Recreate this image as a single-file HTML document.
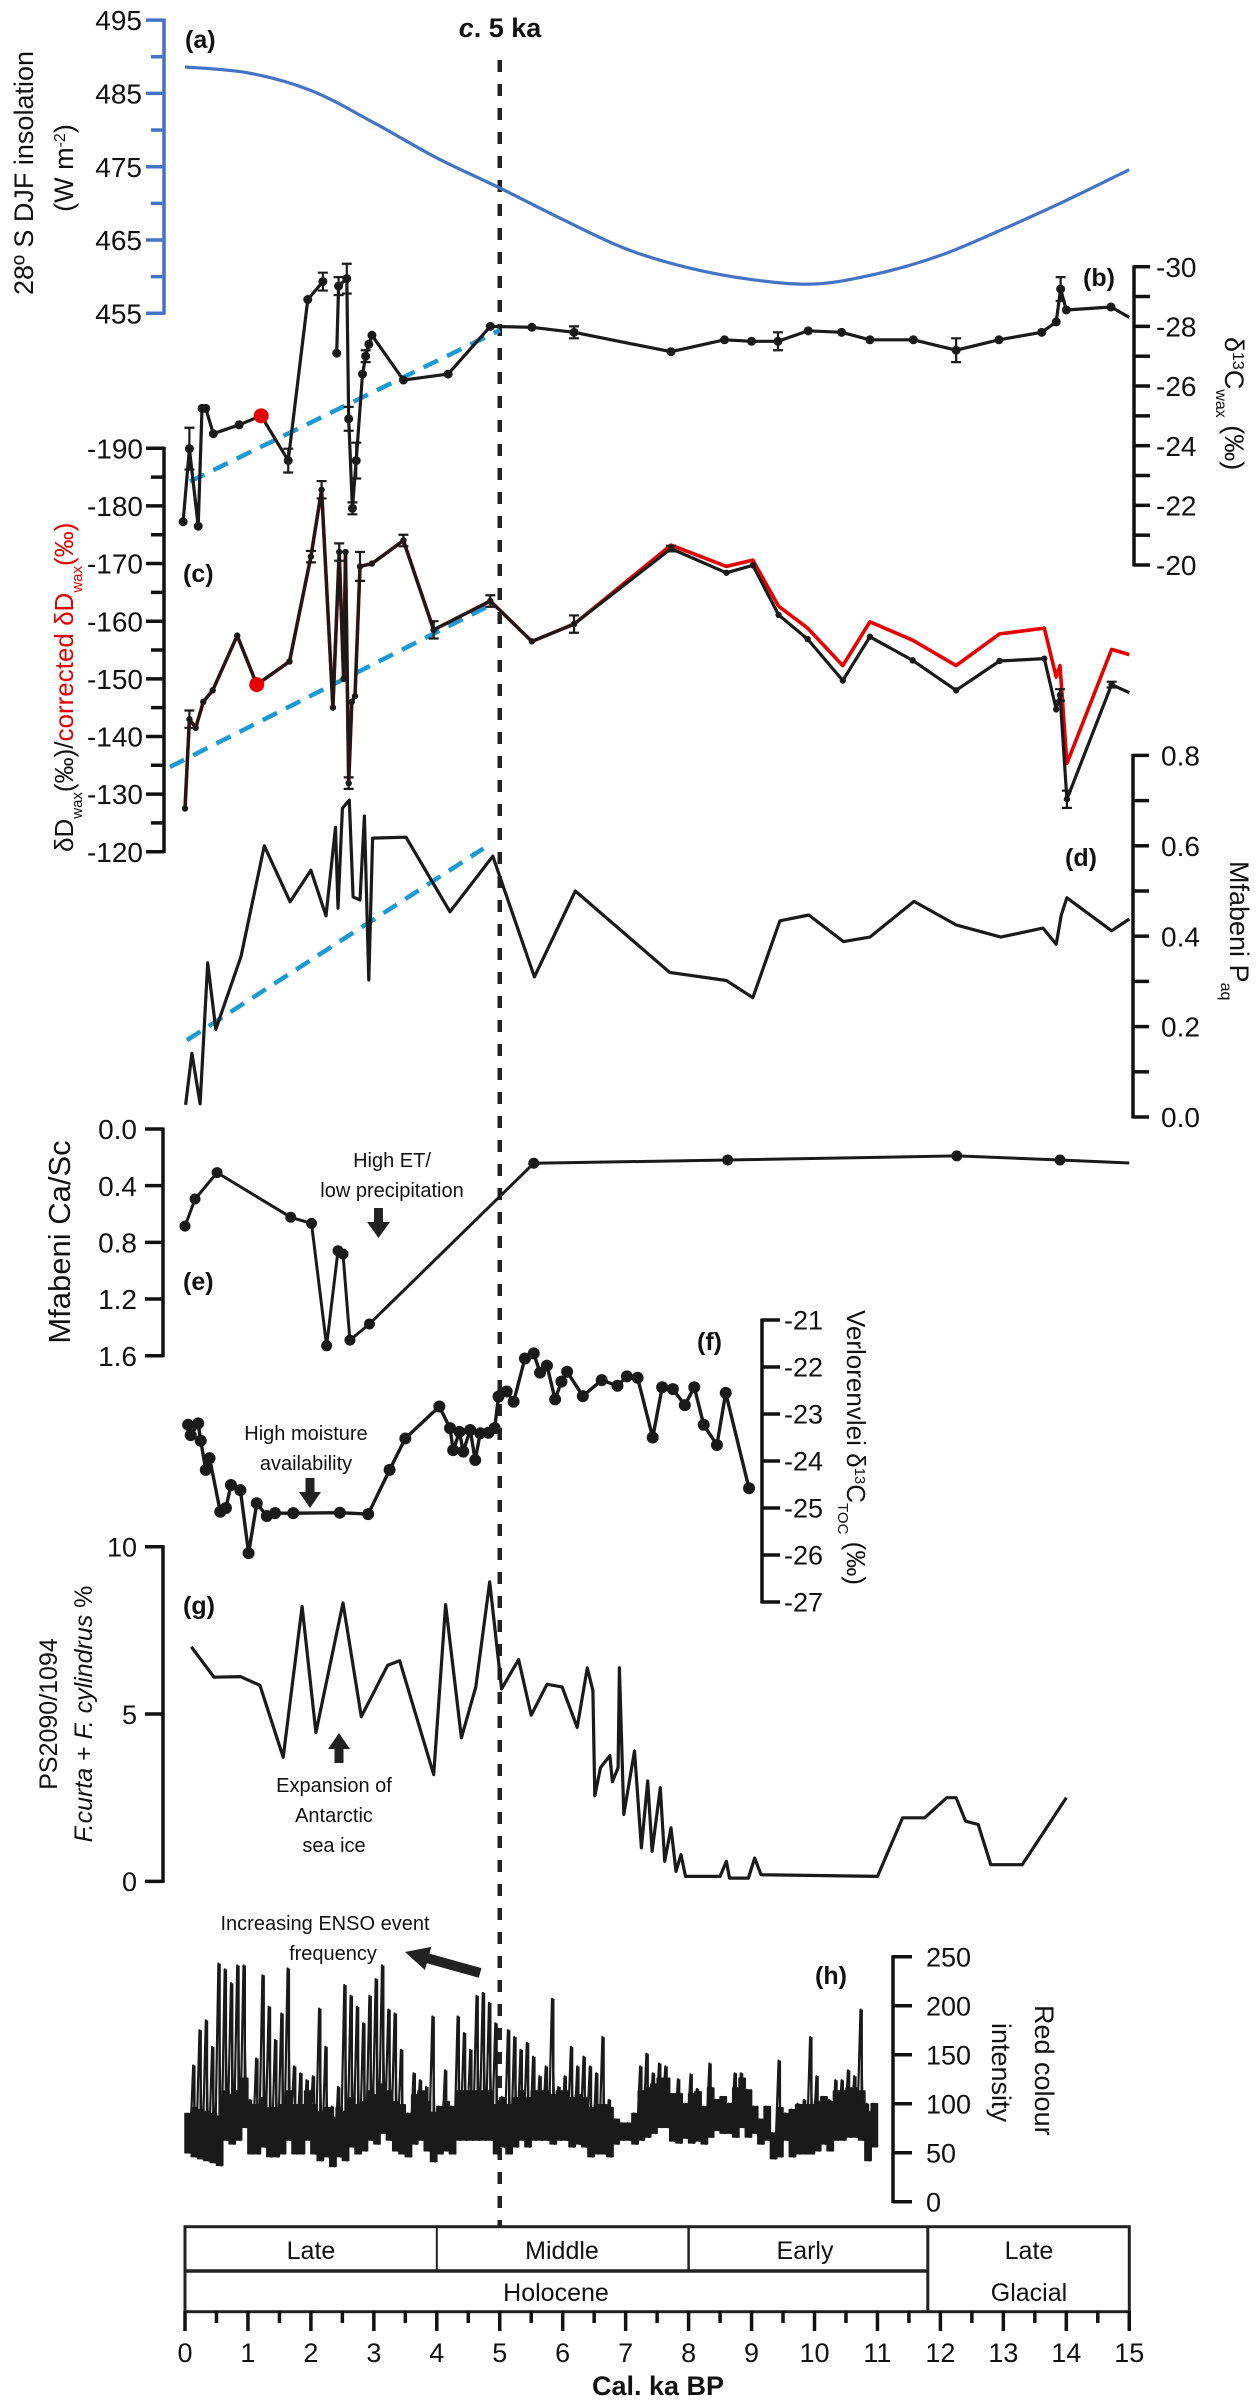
<!DOCTYPE html>
<html><head><meta charset="utf-8"><title>Palaeoclimate multi-proxy figure</title>
<style>
html,body{margin:0;padding:0;background:#fff;}
svg{display:block;}
text{font-family:"Liberation Sans",sans-serif;fill:#111;}
</style></head>
<body>
<svg id="fig" xmlns="http://www.w3.org/2000/svg" width="1256" height="2400" viewBox="0 0 1256 2400">
  <text x="185" y="48" font-size="25" font-weight="bold">(a)</text>
  <text x="500" y="37" font-size="27" font-weight="bold" text-anchor="middle"><tspan font-style="italic">c</tspan>. 5 ka</text>
  <text x="1083" y="286" font-size="25" font-weight="bold">(b)</text>
  <text x="183" y="582" font-size="25" font-weight="bold">(c)</text>
  <text x="1065" y="866" font-size="25" font-weight="bold">(d)</text>
  <text x="183" y="1290" font-size="25" font-weight="bold">(e)</text>
  <text x="697" y="1350" font-size="25" font-weight="bold">(f)</text>
  <text x="183" y="1614" font-size="25" font-weight="bold">(g)</text>
  <text x="815" y="1984" font-size="25" font-weight="bold">(h)</text>

  <text transform="translate(33,173) rotate(-90)" font-size="27" text-anchor="middle">28º S DJF insolation</text>
  <text transform="translate(73,168) rotate(-90)" font-size="27" text-anchor="middle">(W m<tspan font-size="16" baseline-shift="super">-2</tspan>)</text>
  <text transform="translate(1225,337) rotate(90)" font-size="27">δ<tspan font-size="16" baseline-shift="super">13</tspan>C<tspan font-size="16" baseline-shift="sub">wax</tspan> (‰)</text>
  <text transform="translate(73,852) rotate(-90)" font-size="26">δD<tspan font-size="15" baseline-shift="sub">wax</tspan>(‰)/<tspan fill="#e00000" style="fill:#e00000">corrected δD<tspan font-size="15" baseline-shift="sub" style="fill:#e00000">wax</tspan>(‰)</tspan></text>
  <text transform="translate(1230,861) rotate(90)" font-size="27">Mfabeni P<tspan font-size="16" baseline-shift="sub">aq</tspan></text>
  <text transform="translate(70,1242) rotate(-90)" font-size="31" text-anchor="middle">Mfabeni Ca/Sc</text>
  <text transform="translate(847,1310) rotate(90)" font-size="26">Verlorenvlei δ<tspan font-size="15" baseline-shift="super">13</tspan>C<tspan font-size="15" baseline-shift="sub">TOC</tspan> (‰)</text>
  <text transform="translate(57,1714) rotate(-90)" font-size="25" text-anchor="middle">PS2090/1094</text>
  <text transform="translate(92,1714) rotate(-90)" font-size="25" text-anchor="middle"><tspan font-style="italic">F.curta</tspan> + <tspan font-style="italic">F. cylindrus</tspan> %</text>
  <text transform="translate(1035,2005) rotate(90)" font-size="27">Red colour</text>
  <text transform="translate(992,2023) rotate(90)" font-size="27">intensity</text>

  <text x="392" y="1167" font-size="20" text-anchor="middle">High ET/</text>
  <text x="392" y="1197" font-size="20" text-anchor="middle">low precipitation</text>
  <path d="M374,1208 H383 V1222 H390 L378.5,1238 L367,1222 H374 Z" fill="#222"/>
  <text x="306" y="1440" font-size="20" text-anchor="middle">High moisture</text>
  <text x="306" y="1470" font-size="20" text-anchor="middle">availability</text>
  <path d="M305.5,1478 H314.5 V1492 H321 L310,1508 L299,1492 H305.5 Z" fill="#222"/>
  <path d="M334.5,1763 H343.5 V1749 H350 L339,1733 L328,1749 H334.5 Z" fill="#222"/>
  <text x="334" y="1792" font-size="20" text-anchor="middle">Expansion of</text>
  <text x="334" y="1822" font-size="20" text-anchor="middle">Antarctic</text>
  <text x="334" y="1852" font-size="20" text-anchor="middle">sea ice</text>
  <text x="325" y="1930" font-size="20" text-anchor="middle">Increasing ENSO event</text>
  <text x="333" y="1960" font-size="20" text-anchor="middle">frequency</text>
  <path transform="translate(405,1952) rotate(15.6)" d="M0,0 L24,-12 L24,-5 L78,-5 L78,5 L24,5 L24,12 Z" fill="#222"/>

  <g fill="none" stroke="#222">
    <rect x="185" y="2226.7" width="944.3" height="85" stroke-width="3"/>
    <line x1="185" y1="2271" x2="927.8" y2="2271" stroke-width="3.5"/>
    <line x1="436.8" y1="2226.7" x2="436.8" y2="2271" stroke-width="2"/>
    <line x1="688.6" y1="2226.7" x2="688.6" y2="2271" stroke-width="2.5"/>
    <line x1="927.8" y1="2226.7" x2="927.8" y2="2311.7" stroke-width="3"/>
  </g>
  <text x="311" y="2259" font-size="25" text-anchor="middle">Late</text>
  <text x="562" y="2259" font-size="25" text-anchor="middle">Middle</text>
  <text x="805" y="2259" font-size="25" text-anchor="middle">Early</text>
  <text x="556" y="2301" font-size="25" text-anchor="middle">Holocene</text>
  <text x="1029" y="2259" font-size="25" text-anchor="middle">Late</text>
  <text x="1029" y="2301" font-size="25" text-anchor="middle">Glacial</text>
  <text x="658" y="2395" font-size="27" font-weight="bold" text-anchor="middle">Cal. ka BP</text>
</svg>

<script>
const insolKa = [0,1,2,3,4,5,6,7,8,9,10,11,12,13,14,15];
const insolVal = [488.6,487.8,485.4,481,476.2,472.1,467.8,463.8,461.2,459.6,459.0,460.4,462.9,466.5,470.4,474.6];

const bKa = [-0.03,0.07,0.21,0.27,0.33,0.45,0.86,1.21,1.64,1.95,2.19,2.41,2.44,2.57,2.6,2.66,2.72,2.82,2.87,2.92,2.97,3.47,4.18,4.85,5.51,6.18,7.72,8.57,9.0,9.42,9.9,10.43,10.88,11.57,12.25,12.93,13.61,13.84,13.91,14.0,14.71,15.0];
const bVal = [-21.45,-23.9,-21.3,-25.25,-25.25,-24.4,-24.7,-25.0,-23.5,-28.9,-29.5,-27.1,-29.35,-29.6,-24.9,-21.9,-23.5,-26.4,-27.0,-27.4,-27.7,-26.2,-26.4,-28.0,-27.97,-27.8,-27.15,-27.55,-27.5,-27.5,-27.85,-27.8,-27.55,-27.55,-27.2,-27.55,-27.8,-28.15,-29.25,-28.55,-28.65,-28.3];
const bErr = [0,0.7,0,0,0,0,0,0,0.4,0,0.3,0,0.3,0.5,0.4,0.2,0.6,0,0.2,0,0,0,0,0,0,0.2,0,0,0,0.3,0,0,0,0,0.4,0,0,0,0.4,0,0,0];
const bRedIdx = [7];
const bBreakAfter = [10];
const bTrendKa = [0.08,5.0];
const bTrendVal = [-22.8,-27.87];

const cKa = [0,0.07,0.17,0.29,0.44,0.83,1.14,1.66,2.0,2.17,2.35,2.45,2.52,2.55,2.6,2.65,2.7,2.78,2.97,3.47,3.95,4.85,5.51,6.18,7.72,8.6,9.02,9.43,9.89,10.45,10.88,11.56,12.25,12.94,13.65,13.84,13.9,14.01,14.72,15.0];
const cVal = [-127.5,-143,-141.5,-146,-148,-157.5,-149,-153,-171.2,-182.8,-145,-172,-150,-172,-131.9,-146,-147,-169.5,-170,-174,-158.5,-163.5,-156.5,-159.5,-172.6,-168.4,-169.7,-161.1,-156.9,-149.7,-157.3,-153.2,-148,-153.1,-153.5,-144.7,-147.2,-129.1,-149,-147.6];
const cRedVal = [-127.5,-143,-141.5,-146,-148,-157.5,-149,-153,-171.2,-182.8,-145,-172,-150,-172,-131.9,-146,-147,-169.5,-170,-174,-158.5,-163.5,-156.5,-159.5,-173.2,-169.5,-170.6,-162.6,-158.8,-152.3,-159.9,-156.7,-152.3,-157.8,-158.8,-150.3,-152.3,-135.3,-155.1,-154.2];
const cErr = [0,1.5,0,0,0,0,0,0,1.0,1.5,0,1.5,0,0,1.0,0,0,2.5,0,1.0,1.5,1.0,0,1.5,0.5,0,0,0,0,0,0,0,0,0,0,0,1.0,1.5,0.5,0];
const cRedIdx = [6];
const cTrendKa = [-0.24,4.85];
const cTrendVal = [-134.7,-162.8];

const dKa = [0.01,0.11,0.24,0.36,0.49,0.89,1.26,1.67,2.0,2.24,2.39,2.43,2.5,2.61,2.67,2.78,2.85,2.92,2.98,3.51,4.21,4.89,5.55,6.2,7.7,8.6,9.02,9.45,9.91,10.46,10.88,11.58,12.25,12.96,13.63,13.84,13.92,14.01,14.72,15.0];
const dVal = [0.027,0.141,0.029,0.341,0.194,0.355,0.60,0.476,0.546,0.445,0.641,0.462,0.683,0.701,0.487,0.48,0.666,0.303,0.617,0.619,0.454,0.577,0.31,0.50,0.32,0.302,0.264,0.434,0.447,0.388,0.398,0.477,0.425,0.398,0.418,0.382,0.447,0.485,0.412,0.438];
const dTrendKa = [0.03,4.74];
const dTrendVal = [0.17,0.594];

const eKa = [0,0.16,0.51,1.68,2.01,2.25,2.43,2.51,2.62,2.93,5.54,8.62,12.26,13.9,15.0];
const eVal = [0.685,0.494,0.308,0.623,0.666,1.53,0.859,0.882,1.49,1.376,0.242,0.219,0.19,0.219,0.24];

const fKa = [0.05,0.09,0.21,0.25,0.33,0.39,0.56,0.65,0.73,0.88,1.01,1.14,1.3,1.43,1.72,2.46,2.91,3.25,3.5,4.04,4.21,4.26,4.36,4.42,4.53,4.61,4.69,4.82,4.92,4.98,5.11,5.22,5.4,5.54,5.64,5.75,5.88,5.98,6.07,6.32,6.62,6.87,7.02,7.19,7.43,7.58,7.75,7.94,8.09,8.24,8.45,8.59,8.96];
const fVal = [-23.23,-23.45,-23.2,-23.57,-24.19,-23.94,-25.08,-25.0,-24.51,-24.62,-25.96,-24.9,-25.17,-25.11,-25.11,-25.1,-25.13,-24.19,-23.52,-22.84,-23.3,-23.77,-23.38,-23.8,-23.34,-23.98,-23.41,-23.4,-23.3,-22.63,-22.52,-22.74,-21.82,-21.71,-22.12,-21.97,-22.69,-22.31,-22.1,-22.62,-22.28,-22.4,-22.2,-22.23,-23.5,-22.43,-22.47,-22.81,-22.43,-23.23,-23.66,-22.55,-24.58];

const gKa = [0.1,0.46,0.88,1.19,1.56,1.86,2.08,2.51,2.8,3.22,3.41,3.95,4.14,4.39,4.62,4.84,5.03,5.3,5.5,5.75,5.99,6.23,6.39,6.48,6.51,6.6,6.75,6.79,6.88,6.9,6.97,7.14,7.25,7.35,7.42,7.55,7.62,7.72,7.8,7.88,7.95,8.5,8.6,8.65,8.95,9.05,9.15,11.0,11.4,11.75,12.1,12.25,12.4,12.6,12.8,13.3,14.0];
const gVal = [7.01,6.1,6.12,5.86,3.71,8.22,4.45,8.32,4.92,6.46,6.59,3.19,8.27,4.29,5.81,8.95,5.75,6.63,4.97,5.89,5.81,4.6,6.38,5.7,2.56,3.4,3.76,2.98,3.4,6.38,2.0,3.9,1.0,3.0,0.9,2.8,0.6,1.6,0.3,0.8,0.15,0.15,0.6,0.1,0.1,0.7,0.2,0.15,1.9,1.9,2.5,2.5,1.8,1.7,0.5,0.5,2.5];

const hBinStart = 0;
const hBinWidth = 0.1;
const hMax = [90,139,175,185,158,243,237,223,241,241,
104,146,231,199,165,192,238,138,131,124,
128,197,158,97,117,221,210,199,182,210,
227,241,196,192,155,90,131,124,117,189,
97,134,97,189,172,155,210,213,203,182,
107,175,168,155,162,148,128,138,207,117,
128,158,138,148,138,131,168,104,84,80,
80,90,138,151,131,141,138,110,125,100,
130,115,97,141,104,107,100,131,131,114,
97,84,97,70,144,90,94,100,104,168,
128,107,104,124,124,134,128,196,100,100];
const hMin = [50,46,44,42,40,37,63,59,63,76,
49,49,56,46,46,49,63,49,49,63,
49,42,46,36,46,42,56,49,52,63,
59,70,63,52,49,46,59,63,52,41,
49,52,49,63,63,63,63,63,63,49,
56,49,56,63,56,63,63,63,59,63,
63,56,59,56,46,49,49,46,59,63,
63,59,63,66,70,76,76,62,60,65,
60,62,59,66,73,70,70,66,76,66,
70,59,63,44,46,63,46,49,49,49,
52,59,52,63,63,66,66,63,42,56];

const xMajor = [0,1,2,3,4,5,6,7,8,9,10,11,12,13,14,15];
const xMinor = [0.5,1.5,2.5,3.5,4.5,5.5,6.5,7.5,8.5,9.5,10.5,11.5,12.5,13.5,14.5];
const aTicks = [495,485,475,465,455];
const aMinor = [490,480,470,460];
const bTicks = [-30,-28,-26,-24,-22,-20];
const bMinor = [-29,-27,-25,-23,-21];
const cTicks = [-190,-180,-170,-160,-150,-140,-130,-120];
const cMinor = [-185,-175,-165,-155,-145,-135,-125];
const dTicks = [0.8,0.6,0.4,0.2,0.0];
const dMinor = [0.7,0.5,0.3,0.1];
const eTicks = [0.0,0.4,0.8,1.2,1.6];
const fTicks = [-21,-22,-23,-24,-25,-26,-27];
const gTicks = [10,5,0];
const hTicks = [250,200,150,100,50,0];
const cutoffKa = 5;

const X = k => 185 + 62.95*k;
const yA = v => 313.3 - (v-455)*7.33;
const yB = v => 266.7 + (v+30)*29.83;
const yC = v => 448.3 + (v+190)*5.763;
const yD = v => 1117 - v*452;
const yE = v => 1129 + v*141.7;
const yF = v => 1320 - (v+21)*47;
const yG = v => 1881.4 - v*33.47;
const yH = v => 2201.7 - v*0.98;

const NS = "http://www.w3.org/2000/svg";
const svg = document.getElementById('fig');
function mk(tag, attrs, parent){
  const e = document.createElementNS(NS, tag);
  for (const k in attrs) e.setAttribute(k, attrs[k]);
  (parent||svg).appendChild(e);
  return e;
}
function fmt(v, dec){ return dec ? v.toFixed(dec) : String(v); }

function axis(name, x, ys, majors, minors, side, color, dec, majLen, minLen, fs, gap){
  const g = mk('g', {});
  
  
  const vals = majors.concat(minors||[]);
  const yy = vals.map(ys);
  const y1 = Math.min(...yy), y2 = Math.max(...yy);
  const line = mk('line', {x1:x, y1:y1-1.5, x2:x, y2:y2+1.5, stroke:color, 'stroke-width':3.5}, g);
  
  
  const dir = side === 'left' ? -1 : 1;
  majors.forEach(v => {
    const t = mk('line', {x1:x, y1:ys(v), x2:x+dir*majLen, y2:ys(v), stroke:color, 'stroke-width':3.5}, g);
    
    
    const lb = mk('text', {x:x+dir*(majLen+gap), y:ys(v), dy:'0.36em', 'font-size':fs, 'text-anchor': side==='left'?'end':'start'}, g);
    
    
    lb.textContent = fmt(v, dec);
  });
  (minors||[]).forEach(v => {
    const t = mk('line', {x1:x, y1:ys(v), x2:x+dir*minLen, y2:ys(v), stroke:color, 'stroke-width':3.5}, g);
    
    
  });
}

function pathD(ka, val, ys, breaks){
  let d = '';
  ka.forEach((k,i) => {
    const cmd = (i===0 || (breaks && breaks.includes(i-1))) ? 'M' : 'L';
    d += cmd + X(k).toFixed(1) + ',' + ys(val[i]).toFixed(1) + ' ';
  });
  return d;
}
function smoothD(ka, val, ys){
  const p = ka.map((k,i)=>[X(k), ys(val[i])]);
  let d = 'M' + p[0][0] + ',' + p[0][1];
  for (let i=0;i<p.length-1;i++){
    const p0 = p[i-1]||p[i], p1=p[i], p2=p[i+1], p3=p[i+2]||p2;
    const c1 = [p1[0]+(p2[0]-p0[0])/6, p1[1]+(p2[1]-p0[1])/6];
    const c2 = [p2[0]-(p3[0]-p1[0])/6, p2[1]-(p3[1]-p1[1])/6];
    d += ' C' + c1.join(',') + ' ' + c2.join(',') + ' ' + p2.join(',');
  }
  return d;
}
function series(name, d, color, width, dash){
  const p = mk('path', {d:d, fill:'none', stroke:color, 'stroke-width':width, 'stroke-linejoin':'round'});
  if (dash) p.setAttribute('stroke-dasharray', dash);
  
  
  return p;
}
function dots(name, ka, val, ys, r, skipLast, color){
  const g = mk('g', {fill: color||'#1a1a1a'});
  
  
  ka.forEach((k,i) => {
    if (skipLast && i === ka.length-1) return;
    const c = mk('circle', {cx:X(k), cy:ys(val[i]), r:r}, g);
    
    
  });
}
function errbars(name, ka, val, err, ys){
  const g = mk('g', {stroke:'#1a1a1a', 'stroke-width':2.2});
  
  
  ka.forEach((k,i) => {
    if (!err[i]) return;
    const x = X(k), ya = ys(val[i]-err[i]), yb = ys(val[i]+err[i]);
    const e = mk('path', {d:`M${x},${ya} V${yb} M${x-5},${ya} H${x+5} M${x-5},${yb} H${x+5}`, fill:'none'}, g);
    
    
  });
}

const cut = mk('line', {x1:X(cutoffKa), y1:60, x2:X(cutoffKa), y2:2226, stroke:'#222', 'stroke-width':4.5, 'stroke-dasharray':'12 12'});



axis('insolation-y-axis', 164, yA, aTicks, aMinor, 'left', '#4472c4', 0, 18, 13, 28, 4);
axis('d13c-wax-y-axis', 1134, yB, bTicks, bMinor, 'right', '#111', 0, 16, 16, 28, 6);
axis('dD-wax-y-axis', 164, yC, cTicks, cMinor, 'left', '#111', 0, 18, 13, 28, 3);
axis('paq-y-axis', 1133, yD, dTicks, dMinor, 'right', '#111', 1, 16, 16, 28, 12);
axis('ca-sc-y-axis', 163, yE, eTicks, [], 'left', '#111', 1, 18, 10, 28, 8);
axis('d13c-toc-y-axis', 762, yF, fTicks, [], 'right', '#111', 0, 18, 10, 27, 4);
axis('diatom-y-axis', 163, yG, gTicks, [], 'left', '#111', 0, 18, 10, 27, 8);
axis('red-colour-y-axis', 893, yH, hTicks, [], 'right', '#111', 0, 19, 10, 27, 14);

(function(){
  const g = mk('g', {stroke:'#111', 'stroke-width':3.5});
  
  
  xMajor.forEach(k => {
    const t = mk('line', {x1:X(k), y1:2311, x2:X(k), y2:2331}, g);
    
    
    const lb = mk('text', {x:X(k), y:2362, 'font-size':27, 'text-anchor':'middle', stroke:'none'});
    
    
    lb.textContent = String(k);
  });
  xMinor.forEach(k => {
    const t = mk('line', {x1:X(k), y1:2311, x2:X(k), y2:2323}, g);
    
    
  });
})();

series('insolation-line', smoothD(insolKa, insolVal, yA), '#4472c4', 3.2);

series('d13c-wax-trend', pathD(bTrendKa, bTrendVal, yB), '#1b9ad6', 4.5, '16 10');
errbars('d13c-wax-errors', bKa, bVal, bErr, yB);
series('d13c-wax-line', pathD(bKa, bVal, yB, bBreakAfter), '#1a1a1a', 3.2);
dots('d13c-wax-dots', bKa, bVal, yB, 4.5, true);
bRedIdx.forEach(i => {
  const c = mk('circle', {cx:X(bKa[i]), cy:yB(bVal[i]), r:7.5, fill:'#e60000'});
  
  
});

series('dD-wax-trend', pathD(cTrendKa, cTrendVal, yC), '#1b9ad6', 4.5, '16 10');
series('dD-wax-corrected-line', pathD(cKa, cRedVal, yC), '#e60000', 3.6);
errbars('dD-wax-errors', cKa, cVal, cErr, yC);
series('dD-wax-line', pathD(cKa, cVal, yC), '#1a1a1a', 3.2);
dots('dD-wax-dots', cKa, cVal, yC, 3.2, true);
cRedIdx.forEach(i => {
  const c = mk('circle', {cx:X(cKa[i]), cy:yC(cVal[i]), r:7.5, fill:'#e60000'});
  
  
});

series('paq-trend', pathD(dTrendKa, dTrendVal, yD), '#1b9ad6', 4.5, '16 10');
series('paq-line', pathD(dKa, dVal, yD), '#1a1a1a', 3.2);

series('ca-sc-line', pathD(eKa, eVal, yE), '#1a1a1a', 3);
dots('ca-sc-dots', eKa, eVal, yE, 5.5, true);

series('d13c-toc-line', pathD(fKa, fVal, yF), '#1a1a1a', 3.4);
dots('d13c-toc-dots', fKa, fVal, yF, 6, false);

series('diatom-line', pathD(gKa, gVal, yG), '#1a1a1a', 3.2);

(function(){
  // dense core band (from each bin minimum up to min+50, capped at the bin maximum)
  let top = '', bot = [];
  hMax.forEach((mx, i) => {
    const t = hBinStart + i*hBinWidth;
    const xa = X(t), xb = X(t + hBinWidth);
    const core = Math.min(mx, hMin[i] + 50);
    top += (i===0?'M':'L') + xa.toFixed(1) + ',' + yH(core).toFixed(1) + ' L' + xb.toFixed(1) + ',' + yH(core).toFixed(1) + ' ';
    bot.unshift('L' + xb.toFixed(1) + ',' + yH(hMin[i]).toFixed(1) + ' L' + xa.toFixed(1) + ',' + yH(hMin[i]).toFixed(1));
  });
  const band = mk('path', {d: top + bot.join(' ') + ' Z', fill:'#1a1a1a', stroke:'#1a1a1a', 'stroke-width':1.5, 'stroke-linejoin':'round'});
  
  
  // spikes
  let sp = '';
  hMax.forEach((mx, i) => {
    const t = hBinStart + i*hBinWidth;
    const xs = X(t + hBinWidth*0.5);
    sp += 'M' + xs.toFixed(1) + ',' + yH(hMin[i]).toFixed(1) + ' V' + yH(mx).toFixed(1) + ' ';
  });
  series('red-colour-spikes', sp, '#1a1a1a', 2.4);
  let d = '';
  hMax.forEach((mx, i) => {
    const t = hBinStart + i*hBinWidth;
    const xa = X(t + hBinWidth*0.3), xb = X(t + hBinWidth*0.75);
    d += (i===0?'M':'L') + xa.toFixed(1) + ',' + yH(mx).toFixed(1) + ' L' + xb.toFixed(1) + ',' + yH(hMin[i]).toFixed(1) + ' ';
  });
  series('red-colour-line', d, '#1a1a1a', 2.2);
})();
</script>
</body></html>
